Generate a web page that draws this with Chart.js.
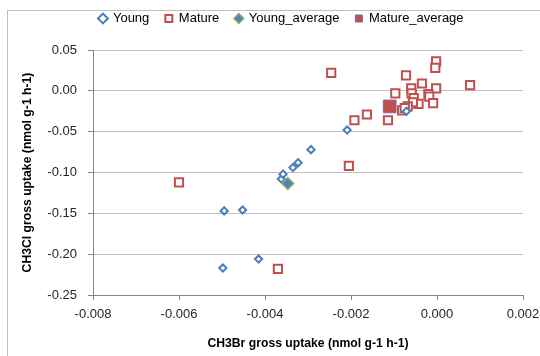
<!DOCTYPE html>
<html>
<head>
<meta charset="utf-8">
<script src="https://cdn.jsdelivr.net/npm/chart.js@4"></script>
<style>
  html, body { margin: 0; padding: 0; background: #fff; }
  #frame { position: absolute; left: 7px; top: 10px; width: 600px; height: 400px;
           border-left: 1px solid #bfbfbf; border-top: 1px solid #bfbfbf; }
  #wrap { position: absolute; left: 0; top: 0; width: 540px; height: 356px; }
</style>
</head>
<body>
<div id="frame"></div>
<div id="wrap"><canvas id="myChart" width="540" height="356"></canvas></div>
<script>
// CH3Br (x) vs CH3Cl (y) gross uptake, nmol g-1 h-1
const youngX = [-0.00498, -0.00495, -0.00452, -0.00415, -0.00362, -0.00358, -0.00335, -0.00323, -0.00293, -0.00209, -0.00071];
const youngY = [-0.217, -0.147, -0.146, -0.206, -0.108, -0.102, -0.094, -0.088, -0.072, -0.048, -0.025];

const matureX = [-0.0060, -0.0037, -0.00205, -0.00246, -0.00072, -0.00002, -0.00004, 0.00077,
  -0.00035, -0.00002, -0.00060, -0.00059, -0.00097, -0.00020, -0.00018, -0.00054, -0.00043,
  -0.00056, -0.00009, -0.00068, -0.00081, -0.00163, -0.00192, -0.00114, -0.00075];
const matureY = [-0.112, -0.218, -0.092, 0.022, 0.019, 0.036, 0.028, 0.007,
  0.009, 0.003, 0.003, -0.003, -0.003, -0.004, -0.007, -0.009, -0.016,
  -0.014, -0.015, -0.019, -0.024, -0.029, -0.036, -0.036, -0.021];

const youngAvgX = [-0.00347];
const youngAvgY = [-0.1134];
const matureAvgX = [-0.0011];
const matureAvgY = [-0.0191];

const xTicks = [-0.008, -0.006, -0.004, -0.002, 0.000, 0.002];
const yTicks = [-0.25, -0.20, -0.15, -0.10, -0.05, 0.00, 0.05];

function pts(xs, ys) {
  return xs.map((x, i) => ({ x: x, y: ys[i] }));
}

const fontFamily = '"Liberation Sans", Arial, sans-serif';

// nudge the legend so it sits like the spreadsheet one
const legendShift = {
  id: 'legendShift',
  beforeInit(chart) {
    const fit = chart.legend.fit;
    chart.legend.fit = function () {
      fit.bind(chart.legend)();
      this.height += 11;
    };
  },
  afterLayout(chart) {
    chart.legend.left += 16;
    chart.legend.right += 16;
    chart.legend.top -= 4;
    chart.legend.bottom -= 4;
  }
};

const ctx = document.getElementById('myChart').getContext('2d');
const chart = new Chart(ctx, {
  type: 'scatter',
  data: {
    datasets: [{
      label: 'Young',
      data: pts(youngX, youngY),
      order: 1,
      pointStyle: 'rectRot',
      radius: 3.6,
      borderWidth: 2,
      borderColor: '#4a7ebb',
      backgroundColor: '#ffffff'
    }, {
      label: 'Mature',
      data: pts(matureX, matureY),
      order: 3,
      pointStyle: 'rect',
      radius: 5.8,
      borderWidth: 2,
      borderColor: '#c0504d',
      backgroundColor: '#ffffff'
    }, {
      label: 'Young_average',
      data: pts(youngAvgX, youngAvgY),
      order: 0,
      pointStyle: 'rectRot',
      radius: 6,
      borderWidth: 1.5,
      borderColor: '#8fb35a',
      backgroundColor: '#4f81bd'
    }, {
      label: 'Mature_average',
      data: pts(matureAvgX, matureAvgY),
      order: 2,
      pointStyle: 'rect',
      radius: 9,
      borderWidth: 1,
      borderColor: '#7f6aa8',
      backgroundColor: '#c0504d'
    }]
  },
  options: {
    responsive: false,
    animation: false,
    layout: { padding: { left: 8, right: 17, top: 0, bottom: 0 } },
    plugins: {
      legend: {
        position: 'top',
        labels: {
          usePointStyle: true,
          boxWidth: 7,
          boxHeight: 7,
          padding: 16,
          color: '#000',
          font: { family: fontFamily, size: 13 },
          sort: (a, b) => a.datasetIndex - b.datasetIndex
        }
      },
      tooltip: { enabled: false }
    },
    scales: {
      x: {
        type: 'linear',
        min: -0.008,
        max: 0.002,
        afterBuildTicks: s => { s.ticks = xTicks.map(v => ({ value: v })); },
        afterFit: s => { s.height = 61; s.paddingLeft = 0; s.paddingRight = 0; },
        grid: { drawOnChartArea: false, tickLength: 5, tickColor: '#868686' },
        border: { color: '#868686' },
        ticks: {
          padding: 7,
          color: '#262626',
          font: { family: fontFamily, size: 13 },
          callback: v => (Math.abs(v) < 1e-9 ? 0 : v).toFixed(3)
        },
        title: {
          display: true,
          text: 'CH3Br gross uptake (nmol g-1 h-1)',
          color: '#000',
          padding: { top: 0, bottom: 5 },
          font: { family: fontFamily, size: 12.2, weight: 'bold' }
        }
      },
      y: {
        type: 'linear',
        min: -0.25,
        max: 0.05,
        afterBuildTicks: s => { s.ticks = yTicks.map(v => ({ value: v })); },
        afterFit: s => { s.width = 85; },
        grid: { color: '#c0c0c0', tickLength: 5, tickColor: '#868686' },
        border: { color: '#868686' },
        ticks: {
          padding: 11,
          color: '#262626',
          font: { family: fontFamily, size: 13 },
          callback: v => (Math.abs(v) < 1e-9 ? 0 : v).toFixed(2)
        },
        title: {
          display: true,
          text: 'CH3Cl gross uptake (nmol g-1 h-1)',
          color: '#000',
          padding: { top: 12, bottom: 0 },
          font: { family: fontFamily, size: 12.2, weight: 'bold' }
        }
      }
    }
  },
  plugins: [legendShift]
});
</script>
</body>
</html>
